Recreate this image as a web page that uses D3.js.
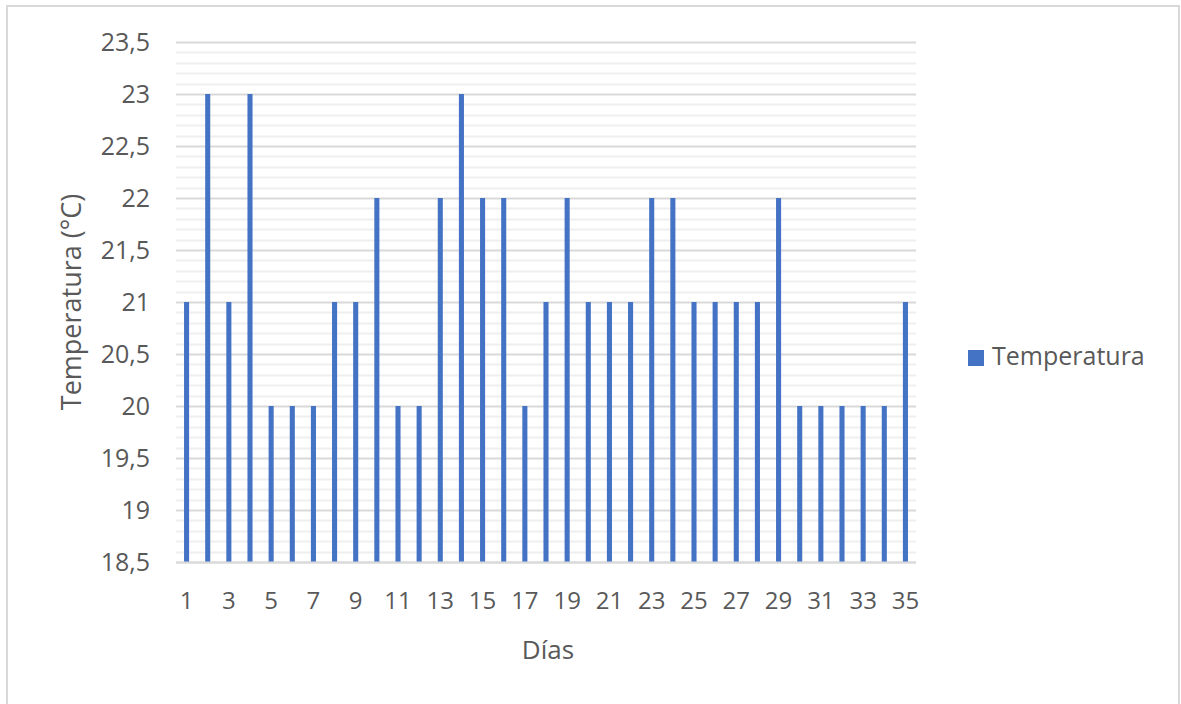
<!DOCTYPE html>
<html>
<head>
<meta charset="utf-8">
<script src="https://cdn.jsdelivr.net/npm/d3@7"></script>
<style>
  html, body { margin: 0; padding: 0; background: #fff; }
  svg { display: block; }
  text { font-family: "Segoe UI", "Open Sans", "Noto Sans", sans-serif; fill: #595959; }
</style>
</head>
<body>
<svg id="chart" width="1181" height="704"></svg>
<script>
const days = d3.range(1, 36);
const temperatures = [21, 23, 21, 23, 20, 20, 20, 21, 21, 22, 20, 20, 22, 23, 22, 22, 20, 21, 22, 21, 21, 21, 22, 22, 21, 21, 21, 21, 22, 20, 20, 20, 20, 20, 21];
const yTicks = [18.5, 19, 19.5, 20, 20.5, 21, 21.5, 22, 22.5, 23, 23.5];
const seriesName = "Temperatura";
const xTitle = "Días";
const yTitle = "Temperatura (°C)";

(function () {
const svg = d3.select("#chart");
svg.append("rect").attr("x", 7).attr("y", 6).attr("width", 1172).attr("height", 710)
  .attr("fill", "#fff").attr("stroke", "#d9d9d9").attr("stroke-width", 2);

const pL = 176, pR = 916, pT = 42, pB = 562;
const x = d3.scaleBand().domain(days).range([pL, pR]).paddingInner(0.76).paddingOuter(0.38);
const y = d3.scaleLinear().domain([18.5, 23.5]).range([pB, pT]);

const minor = d3.range(185, 236).map(v => v / 10).filter(v => Math.round(v * 10) % 5 !== 0);
svg.append("g").selectAll("line").data(minor).join("line")
  .attr("x1", pL).attr("x2", pR)
  .attr("y1", d => Math.round(y(d)) + 0.5).attr("y2", d => Math.round(y(d)) + 0.5)
  .attr("stroke", "#efefef").attr("stroke-width", 2);

const yAxis = d3.axisLeft(y).tickValues(yTicks).tickSize(-(pR - pL)).tickPadding(26)
  .tickFormat(d => String(d).replace(".", ","));
const gy = svg.append("g").attr("transform", `translate(${pL},0)`).call(yAxis);
gy.select(".domain").remove();
gy.selectAll(".tick line").attr("stroke", "#d9d9d9").attr("stroke-width", 2);
gy.selectAll(".tick text").attr("font-size", 25).attr("fill", "#595959").attr("dy", "0.34em");

svg.append("g").selectAll("rect").data(temperatures).join("rect")
  .attr("x", (d, i) => x(days[i]))
  .attr("width", x.bandwidth())
  .attr("y", d => y(d))
  .attr("height", d => y(18.5) - y(d))
  .attr("fill", "#4472c4");

const xAxis = d3.axisBottom(x).tickValues(days.filter(d => d % 2 === 1)).tickSize(0);
const gx = svg.append("g").attr("transform", `translate(0,${pB})`).call(xAxis);
gx.select(".domain").attr("stroke", "#d9d9d9").attr("stroke-width", 2)
  .attr("d", `M${pL},0.5H${pR}`);
gx.selectAll(".tick text").attr("font-size", 24).attr("fill", "#595959")
  .attr("y", 47).attr("dy", 0);

svg.append("text").attr("x", (pL + pR) / 2 + 2).attr("y", 659)
  .attr("text-anchor", "middle").attr("font-size", 26).text(xTitle);
svg.append("text").attr("transform", `translate(81,${(pT + pB) / 2}) rotate(-90)`)
  .attr("text-anchor", "middle").attr("font-size", 27).text(yTitle);

const lg = svg.append("g").attr("transform", "translate(968,350)");
lg.append("rect").attr("width", 16).attr("height", 16).attr("fill", "#4472c4");
lg.append("text").attr("x", 24).attr("y", 15).attr("font-size", 25).text(seriesName);
})();
</script>
</body>
</html>
